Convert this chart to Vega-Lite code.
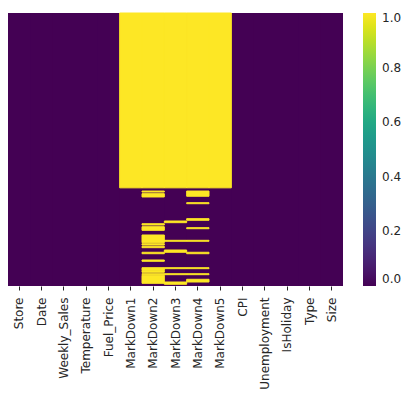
{
  "$schema": "https://vega.github.io/schema/vega-lite/v6.json",
  "width": 335,
  "height": 273,
  "padding": {"left": 8, "top": 12, "right": 0, "bottom": 0},
  "background": "white",
  "config": {"view": {"stroke": null, "fill": "#440154"}, "font": "DejaVu Sans"},
  "data": {
    "values": [
      {"column": "Store", "start": 0, "end": 421570, "missing": 0},
      {"column": "Date", "start": 0, "end": 421570, "missing": 0},
      {"column": "Weekly_Sales", "start": 0, "end": 421570, "missing": 0},
      {"column": "Temperature", "start": 0, "end": 421570, "missing": 0},
      {"column": "Fuel_Price", "start": 0, "end": 421570, "missing": 0},
      {"column": "MarkDown1", "start": 270000, "end": 421570, "missing": 0},
      {"column": "MarkDown2", "start": 270000, "end": 421570, "missing": 0},
      {"column": "MarkDown3", "start": 270000, "end": 421570, "missing": 0},
      {"column": "MarkDown4", "start": 270000, "end": 421570, "missing": 0},
      {"column": "MarkDown5", "start": 270000, "end": 421570, "missing": 0},
      {"column": "CPI", "start": 0, "end": 421570, "missing": 0},
      {"column": "Unemployment", "start": 0, "end": 421570, "missing": 0},
      {"column": "IsHoliday", "start": 0, "end": 421570, "missing": 0},
      {"column": "Type", "start": 0, "end": 421570, "missing": 0},
      {"column": "Size", "start": 0, "end": 421570, "missing": 0},
      {"column": "MarkDown1", "start": 0, "end": 270000, "missing": 1},
      {"column": "MarkDown2", "start": 0, "end": 270000, "missing": 1},
      {"column": "MarkDown3", "start": 0, "end": 270000, "missing": 1},
      {"column": "MarkDown4", "start": 0, "end": 270000, "missing": 1},
      {"column": "MarkDown5", "start": 0, "end": 270000, "missing": 1},
      {"column": "MarkDown2", "start": 274900, "end": 276500, "missing": 1},
      {"column": "MarkDown2", "start": 279000, "end": 284100, "missing": 1},
      {"column": "MarkDown2", "start": 325400, "end": 327400, "missing": 1},
      {"column": "MarkDown2", "start": 330000, "end": 335600, "missing": 1},
      {"column": "MarkDown2", "start": 342800, "end": 354700, "missing": 1},
      {"column": "MarkDown2", "start": 356300, "end": 358300, "missing": 1},
      {"column": "MarkDown2", "start": 360300, "end": 362400, "missing": 1},
      {"column": "MarkDown2", "start": 369500, "end": 371700, "missing": 1},
      {"column": "MarkDown2", "start": 381400, "end": 383400, "missing": 1},
      {"column": "MarkDown2", "start": 393300, "end": 396900, "missing": 1},
      {"column": "MarkDown2", "start": 397300, "end": 400400, "missing": 1},
      {"column": "MarkDown2", "start": 402600, "end": 404100, "missing": 1},
      {"column": "MarkDown2", "start": 405000, "end": 417400, "missing": 1},
      {"column": "MarkDown3", "start": 321200, "end": 323800, "missing": 1},
      {"column": "MarkDown3", "start": 351000, "end": 352500, "missing": 1},
      {"column": "MarkDown3", "start": 366000, "end": 369500, "missing": 1},
      {"column": "MarkDown3", "start": 393300, "end": 394800, "missing": 1},
      {"column": "MarkDown3", "start": 402600, "end": 404100, "missing": 1},
      {"column": "MarkDown3", "start": 415400, "end": 418900, "missing": 1},
      {"column": "MarkDown4", "start": 274900, "end": 283000, "missing": 1},
      {"column": "MarkDown4", "start": 292900, "end": 294500, "missing": 1},
      {"column": "MarkDown4", "start": 317600, "end": 320100, "missing": 1},
      {"column": "MarkDown4", "start": 331500, "end": 333100, "missing": 1},
      {"column": "MarkDown4", "start": 351000, "end": 352500, "missing": 1},
      {"column": "MarkDown4", "start": 369500, "end": 371700, "missing": 1},
      {"column": "MarkDown4", "start": 393300, "end": 394800, "missing": 1},
      {"column": "MarkDown4", "start": 402600, "end": 404100, "missing": 1},
      {"column": "MarkDown4", "start": 411200, "end": 415400, "missing": 1}
    ]
  },
  "mark": {"type": "rect", "strokeWidth": 1},
  "encoding": {
    "x": {
      "field": "column",
      "type": "nominal",
      "sort": ["Store", "Date", "Weekly_Sales", "Temperature", "Fuel_Price", "MarkDown1", "MarkDown2", "MarkDown3", "MarkDown4", "MarkDown5", "CPI", "Unemployment", "IsHoliday", "Type", "Size"],
      "scale": {"paddingInner": 0, "paddingOuter": 0},
      "axis": {
        "title": null,
        "labelAngle": -90,
        "domain": false,
        "ticks": true,
        "tickSize": 4,
        "tickColor": "#262626",
        "labelColor": "#262626",
        "labelFontSize": 12,
        "labelFont": "DejaVu Sans",
        "labelPadding": 7
      }
    },
    "y": {
      "field": "start",
      "type": "quantitative",
      "scale": {"domain": [0, 421570], "reverse": true, "nice": false, "zero": false},
      "axis": null
    },
    "y2": {"field": "end"},
    "stroke": {
      "condition": {"test": "datum.missing == 1", "value": "#fde725"},
      "value": null
    },
    "color": {
      "field": "missing",
      "type": "quantitative",
      "scale": {"scheme": "viridis", "domain": [0, 1]},
      "legend": {
        "title": null,
        "direction": "vertical",
        "gradientLength": 273,
        "gradientThickness": 13,
        "gradientStrokeWidth": 0,
        "values": [0, 0.2, 0.4, 0.6, 0.8, 1],
        "format": ".1f",
        "offset": 20,
        "labelOffset": 6,
        "labelFontSize": 12,
        "labelFont": "DejaVu Sans",
        "labelColor": "#262626",
        "labelBaseline": "middle"
      }
    }
  }
}
